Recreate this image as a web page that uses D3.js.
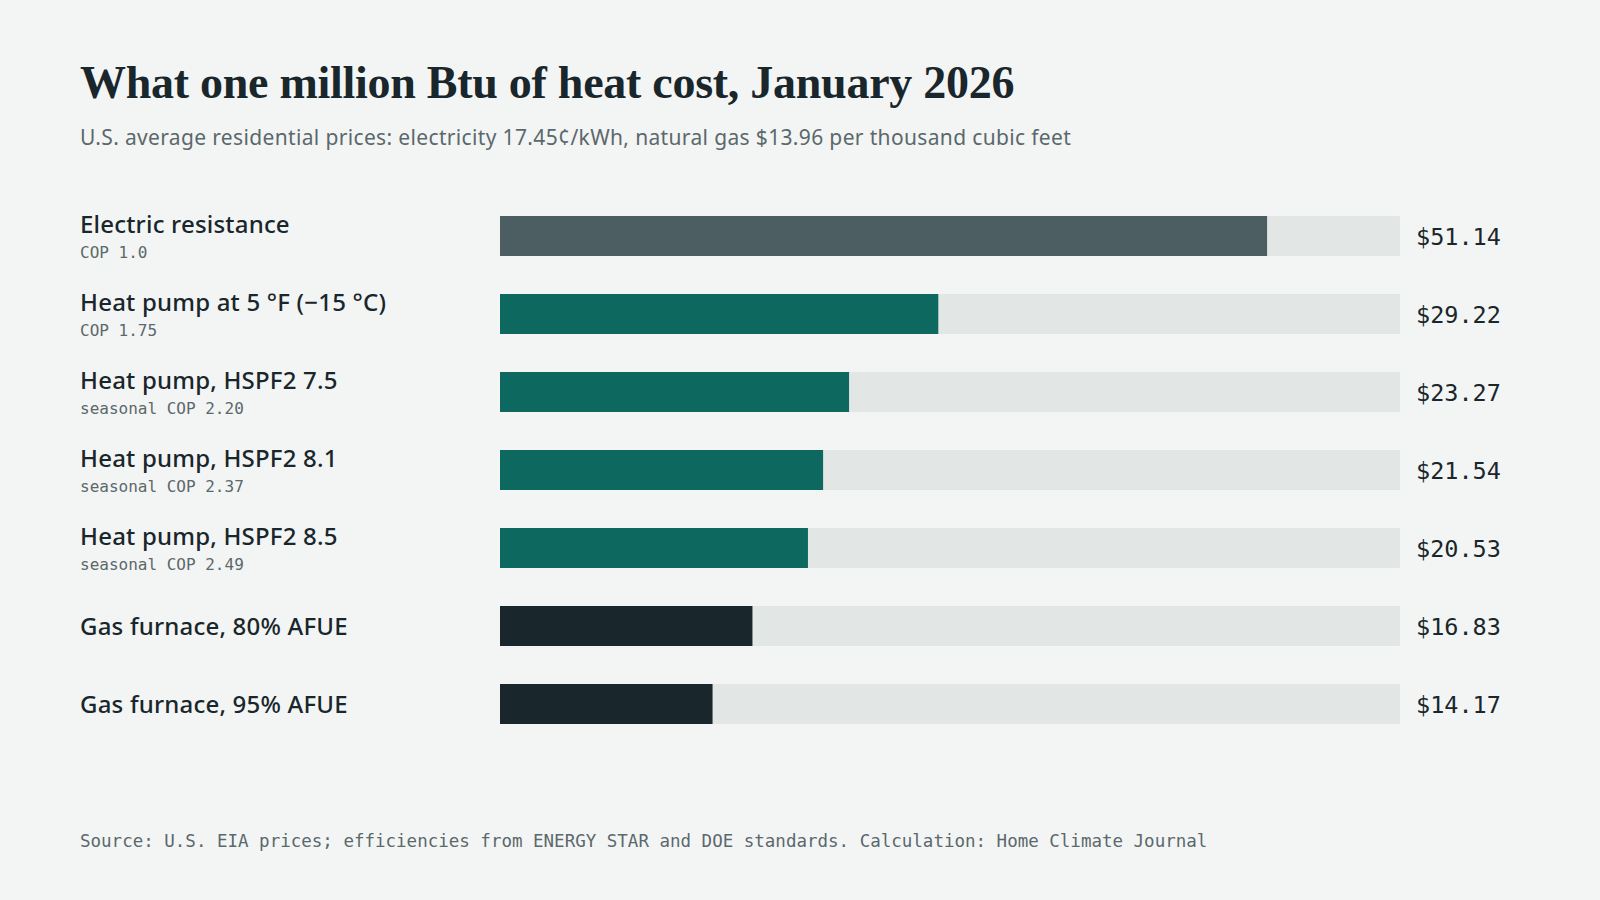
<!DOCTYPE html>
<html lang="en">
<head>
<meta charset="utf-8">
<title>What one million Btu of heat cost, January 2026</title>
<script src="https://cdn.jsdelivr.net/npm/d3@7"></script>
<style>
  html, body { margin: 0; padding: 0; background: #f3f5f4; }
  svg { display: block; }
</style>
</head>
<body>
<svg id="chart" width="1600" height="900"></svg>
<script>
// data
var labels = ["Electric resistance", "Heat pump at 5 °F (\u221215 °C)", "Heat pump, HSPF2 7.5",
  "Heat pump, HSPF2 8.1", "Heat pump, HSPF2 8.5", "Gas furnace, 80% AFUE", "Gas furnace, 95% AFUE"];
var notes = ["COP 1.0", "COP 1.75", "seasonal COP 2.20", "seasonal COP 2.37", "seasonal COP 2.49", "", ""];
var costs = [51.14, 29.22, 23.27, 21.54, 20.53, 16.83, 14.17];
var kinds = ["resistance", "heatpump", "heatpump", "heatpump", "heatpump", "gas", "gas"];
var domainMax = 60;

var colors = { resistance: "#4d5e62", heatpump: "#0d6860", gas: "#19262b" };

var svg = d3.select("#chart");
var sans = "'Noto Sans', Roboto, sans-serif";
var mono = "'DejaVu Sans Mono', 'Liberation Mono', monospace";

svg.append("rect").attr("width", 1600).attr("height", 900).attr("fill", "#f3f5f4");

svg.append("text")
  .attr("x", 80).attr("y", 98)
  .attr("font-family", "'Liberation Serif', 'DejaVu Serif', serif")
  .attr("font-weight", 700)
  .attr("font-size", 46)
  .attr("letter-spacing", -0.27)
  .attr("fill", "#19262b")
  .text("What one million Btu of heat cost, January 2026");

svg.append("text")
  .attr("x", 80).attr("y", 145)
  .attr("font-family", sans)
  .attr("font-size", 21)
  .attr("letter-spacing", 0.35)
  .attr("fill", "#5b686c")
  .text("U.S. average residential prices: electricity 17.45\u00a2/kWh, natural gas $13.96 per thousand cubic feet");

var x = d3.scaleLinear().domain([0, domainMax]).range([500, 1400]);
// band step 78, bar 40
var y = d3.scaleBand().domain(d3.range(costs.length))
  .range([216, 216 + 78 * costs.length - 38]).paddingInner(38 / 78).paddingOuter(0);

var rows = svg.append("g").selectAll("g").data(costs).join("g");

rows.append("rect")
  .attr("x", x(0)).attr("y", function(d, i) { return y(i); })
  .attr("width", x(domainMax) - x(0)).attr("height", y.bandwidth())
  .attr("fill", "#e2e7e5");

rows.append("rect")
  .attr("x", x(0)).attr("y", function(d, i) { return y(i); })
  .attr("width", function(d) { return x(d) - x(0); }).attr("height", y.bandwidth())
  .attr("fill", function(d, i) { return colors[kinds[i]]; });

rows.append("text")
  .attr("x", 80)
  .attr("y", function(d, i) { return notes[i] ? y(i) + 17 : y(i) + y.bandwidth() / 2 + 9; })
  .attr("font-family", sans)
  .attr("font-weight", 500)
  .attr("font-size", 24)
  .attr("letter-spacing", 0.2)
  .attr("fill", "#19262b")
  .text(function(d, i) { return labels[i]; });

rows.append("text")
  .attr("x", 80)
  .attr("y", function(d, i) { return y(i) + 42; })
  .attr("font-family", mono)
  .attr("font-size", 16)
  .attr("fill", "#5b686c")
  .text(function(d, i) { return notes[i]; });

rows.append("text")
  .attr("x", 1416)
  .attr("y", function(d, i) { return y(i) + y.bandwidth() / 2 + 9; })
  .attr("font-family", mono)
  .attr("font-size", 23.5)
  .attr("fill", "#19262b")
  .text(function(d) { return "$" + d3.format(".2f")(d); });

svg.append("text")
  .attr("x", 80).attr("y", 847)
  .attr("font-family", mono)
  .attr("font-size", 17.5)
  .attr("fill", "#5b686c")
  .text("Source: U.S. EIA prices; efficiencies from ENERGY STAR and DOE standards. Calculation: Home Climate Journal");
</script>
</body>
</html>
